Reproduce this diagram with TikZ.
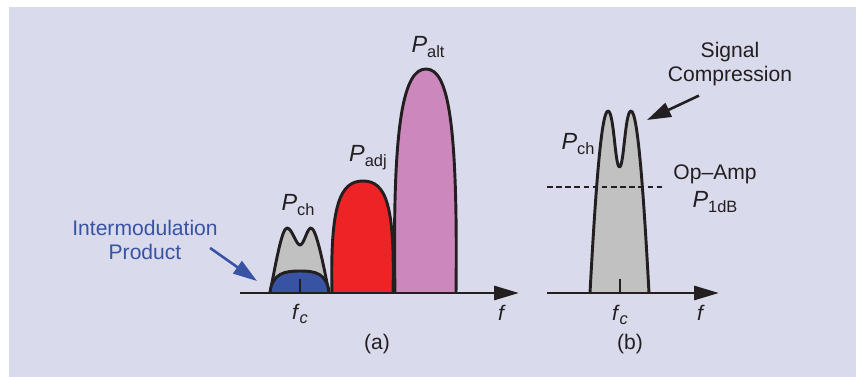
\documentclass[tikz,border=0pt]{standalone}
\usepackage{fontspec}
\setmainfont{Liberation Sans}
\usetikzlibrary{arrows.meta,positioning}
\definecolor{bgcol}{HTML}{D9DAEC}
\definecolor{inkcol}{HTML}{231F20}
\definecolor{greyfill}{HTML}{C1C1C1}
\definecolor{redfill}{HTML}{EE2326}
\definecolor{pinkfill}{HTML}{CC88BC}
\definecolor{imdblue}{HTML}{3953A4}
\newcommand{\Psub}[1]{\textit{P}\raisebox{-0.4ex}{\fontsize{14}{14}\selectfont #1}}
\newcommand{\fsub}{\textit{f}\raisebox{-0.4ex}{\fontsize{14}{14}\selectfont\textit{c}}}

\begin{document}
\begin{tikzpicture}[x=0.03cm, y=-0.03cm, line width=2.5pt, line join=round,
    lbl/.style={text=inkcol, inner sep=0pt, font=\fontsize{18}{21}\selectfont},
    plbl/.style={text=inkcol, inner sep=0pt, font=\fontsize{20}{22}\selectfont},
    band/.style={draw=inkcol},
    axis/.style={draw=inkcol, -{Triangle[length=0.75cm, width=0.42cm]}},
    pointer/.style={line width=2.2pt, -{Triangle[length=0.72cm, width=0.45cm]}}]
    % Background
    \fill[bgcol] (9,7) rectangle (856,377);
    \useasboundingbox (0,0) rectangle (862,377);

    % Bands (a)
    \filldraw[band, fill=pinkfill] (395,293) .. controls (392,120) and (404,69) .. (426,69)
        .. controls (448,69) and (458,120) .. (456,293);
    \filldraw[band, fill=redfill] (332,293) .. controls (330,205) and (340,181) .. (363,181)
        .. controls (386,181) and (395,205) .. (393,293);
    \filldraw[band, fill=greyfill] (270,293) .. controls (276,262) and (282,228) .. (287,228)
        .. controls (292,228) and (296,245) .. (300,245) .. controls (304,245) and (307,228) .. (311,228)
        .. controls (316,228) and (323,262) .. (329,293);
    \filldraw[band, fill=imdblue] (270,293) .. controls (272,273) and (285,271) .. (300,271)
        .. controls (315,271) and (327,273) .. (329,293);
    \draw[inkcol] (300,279) -- (300,293);

    % Band (b)
    \filldraw[band, fill=greyfill] (590,293) .. controls (595,200) and (601,111) .. (608,111)
        .. controls (614,111) and (615,167) .. (619.5,167) .. controls (624,167) and (625,111) .. (631,111)
        .. controls (638,111) and (644,200) .. (649,293);
    \draw[inkcol] (620,279) -- (620,293);
    \draw[inkcol, line width=2.4pt, dash pattern=on 4.8pt off 3pt] (547,187) -- (665,187);

    % Axes
    \coordinate (a0) at (240,293);
    \coordinate (a1) at (519,293);
    \coordinate (b0) at (547,293);
    \coordinate (b1) at (719,293);
    \draw[axis] (a0) -- (a1);
    \draw[axis] (b0) -- (b1);

    % Labels (a)
    \node[plbl] (palt) at (428,47) {\Psub{alt}};
    \node[plbl] (padj) at (368,158) {\Psub{adj}};
    \node[plbl] (pcha) at (298,205) {\Psub{ch}};
    \node[lbl] (fca) at (300,314) {\fsub};
    \node[lbl] (fa) at (502,313) {\textit{f}};
    \node[lbl] (capa) at (377,344) {(a)};
    \node[lbl, text=imdblue, align=center] (imd) at (145,240) {Intermodulation\\Product};

    % Labels (b)
    \node[plbl] (pchb) at (578,144) {\Psub{ch}};
    \node[lbl] (opamp) at (715,174) {Op--Amp};
    \node[plbl] (p1db) at (715,202) {\Psub{1dB}};
    \node[lbl] (fcb) at (620,315) {\fsub};
    \node[lbl] (fb) at (701,313) {\textit{f}};
    \node[lbl] (capb) at (630,344) {(b)};
    \node[lbl, align=center] (sig) at (730,64) {Signal\\Compression};

    % Pointers
    \coordinate (imdtip) at (257,281);
    \coordinate (sigtip) at (647,120);
    \draw[pointer, imdblue] ([shift={(-9,8)}]imd.east) -- (imdtip);
    \draw[pointer, inkcol] ([shift={(-31,8)}]sig.south) -- (sigtip);
\end{tikzpicture}
\end{document}
